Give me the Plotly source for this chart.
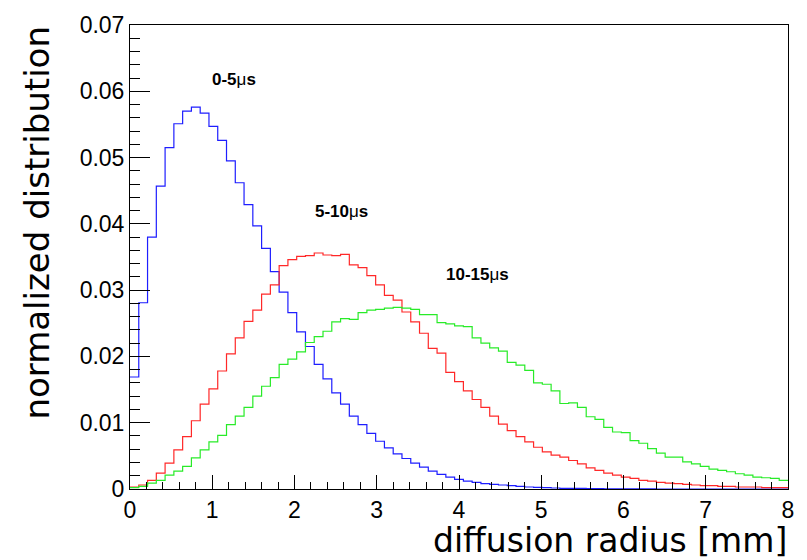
import numpy as np
import plotly.graph_objects as go

# 75 bins over 0..8 mm
n_bins = 75
x_min, x_max = 0.0, 8.0

blue_0_5 = [0.0169, 0.0281, 0.0380, 0.0457, 0.0515, 0.0551, 0.0570, 0.0576, 0.0567, 0.0547,
            0.0526, 0.0495, 0.0462, 0.0429, 0.0397, 0.0363, 0.0328, 0.0297, 0.0266, 0.0237,
            0.0215, 0.0188, 0.0166, 0.0145, 0.0128, 0.0110, 0.0097, 0.0084, 0.0072, 0.0062,
            0.0053, 0.0046, 0.0039, 0.0033, 0.0027, 0.0022, 0.0018, 0.00145, 0.0012, 0.0010,
            0.0008, 0.0007, 0.0006, 0.0005, 0.0004, 0.0003, 0.00025, 0.0002, 0.00015, 0.0001,
            0.0001, 0.00008, 0.00006, 0.00005, 0.00004, 0.00003, 0.00002, 0.00002, 0.00001, 0.00001,
            0.0, 0.0, 0.0, 0.0, 0.0, 0.0, 0.0, 0.0, 0.0, 0.0,
            0.0, 0.0, 0.0, 0.0, 0.0]

red_5_10 = [0.0003, 0.0006, 0.0013, 0.0024, 0.0039, 0.0059, 0.0079, 0.0103, 0.0128, 0.0151,
            0.0178, 0.0204, 0.0228, 0.0253, 0.0270, 0.0294, 0.0308, 0.0337, 0.0346, 0.0351,
            0.0352, 0.0356, 0.0353, 0.0352, 0.0354, 0.0338, 0.0334, 0.0322, 0.0308, 0.0292,
            0.0285, 0.0267, 0.0252, 0.0235, 0.0212, 0.0205, 0.0176, 0.0162, 0.0148, 0.0135,
            0.0123, 0.0110, 0.0098, 0.0088, 0.0079, 0.0071, 0.0063, 0.0056, 0.0051, 0.0048,
            0.0043, 0.0038, 0.0032, 0.0028, 0.0024, 0.0021, 0.0018, 0.0016, 0.0013, 0.0012,
            0.0010, 0.0009, 0.0008, 0.0007, 0.0006, 0.0005, 0.0005, 0.0004, 0.0004, 0.0003,
            0.0003, 0.0003, 0.0002, 0.0002, 0.0002]

green_10_15 = [0.0002, 0.0004, 0.0009, 0.0013, 0.0021, 0.0027, 0.0034, 0.0047, 0.0059, 0.0071,
               0.0081, 0.0097, 0.0110, 0.0123, 0.0140, 0.0155, 0.0168, 0.0188, 0.0196, 0.0207,
               0.0221, 0.0230, 0.0238, 0.0252, 0.0257, 0.0256, 0.0266, 0.0270, 0.0271, 0.0273,
               0.0274, 0.0273, 0.0271, 0.0263, 0.0263, 0.0251, 0.0249, 0.0246, 0.0245, 0.0228,
               0.0220, 0.0213, 0.0208, 0.0191, 0.0187, 0.0179, 0.0160, 0.0158, 0.0148, 0.0129,
               0.0130, 0.0123, 0.0109, 0.0105, 0.0093, 0.0086, 0.0085, 0.0073, 0.0069, 0.0061,
               0.0054, 0.0048, 0.0048, 0.0041, 0.0038, 0.0034, 0.0030, 0.0028, 0.0026, 0.0023,
               0.0021, 0.0018, 0.0017, 0.0016, 0.0013]

series = [
    ("0-5μs", blue_0_5, "rgb(30,30,255)"),
    ("5-10μs", red_5_10, "rgb(255,40,40)"),
    ("10-15μs", green_10_15, "rgb(40,235,40)"),
]

labels = [
    ("<b>0-5</b>μ<b>s</b>", 1.27, 0.0618),
    ("<b>5-10</b>μ<b>s</b>", 2.57, 0.0419),
    ("<b>10-15</b>μ<b>s</b>", 4.23, 0.0324),
]

edges = np.linspace(x_min, x_max, n_bins + 1)

fig = go.Figure()
for name, vals, color in series:
    yv = list(vals) + [vals[-1]]
    fig.add_trace(go.Scatter(
        x=edges, y=yv, mode="lines", line=dict(shape="hv", color=color, width=1.2),
        name=name, showlegend=False, hoverinfo="skip"))

for text, lx, ly in labels:
    fig.add_annotation(x=lx, y=ly, xref="x", yref="y", text=text, showarrow=False,
                       font=dict(family="Liberation Sans, Arial", size=17, color="black"))

fig.add_annotation(x=1, y=-0.111, xref="paper", yref="paper", xanchor="right", yanchor="middle",
                   text="diffusion radius [mm]", showarrow=False, borderpad=0,
                   font=dict(family="DejaVu Sans", size=33, color="black"))
fig.add_annotation(x=-0.142, y=1.0, xref="paper", yref="paper", xanchor="center", yanchor="top",
                   text="normalized distribution", textangle=-90, showarrow=False, borderpad=0,
                   font=dict(family="DejaVu Sans", size=34, color="black"))

axis_common = dict(showgrid=False, zeroline=False, showline=True, linecolor="black",
                   linewidth=1, mirror=True, ticks="inside", tickcolor="black",
                   tickfont=dict(family="Liberation Sans, Arial", size=23, color="black"))

fig.update_xaxes(range=[0, 8], dtick=1, tick0=0, ticklen=14,
                 minor=dict(dtick=0.2, ticks="inside", ticklen=7, tickcolor="black"),
                 **axis_common)
fig.update_yaxes(range=[0, 0.07], dtick=0.01, tick0=0, ticklen=20,
                 minor=dict(dtick=0.002, ticks="inside", ticklen=10, tickcolor="black"),
                 **axis_common)

fig.update_layout(width=807, height=560, plot_bgcolor="white", paper_bgcolor="white",
                  margin=dict(l=130, r=19, t=20, b=71))

fig.write_html("out.html")
